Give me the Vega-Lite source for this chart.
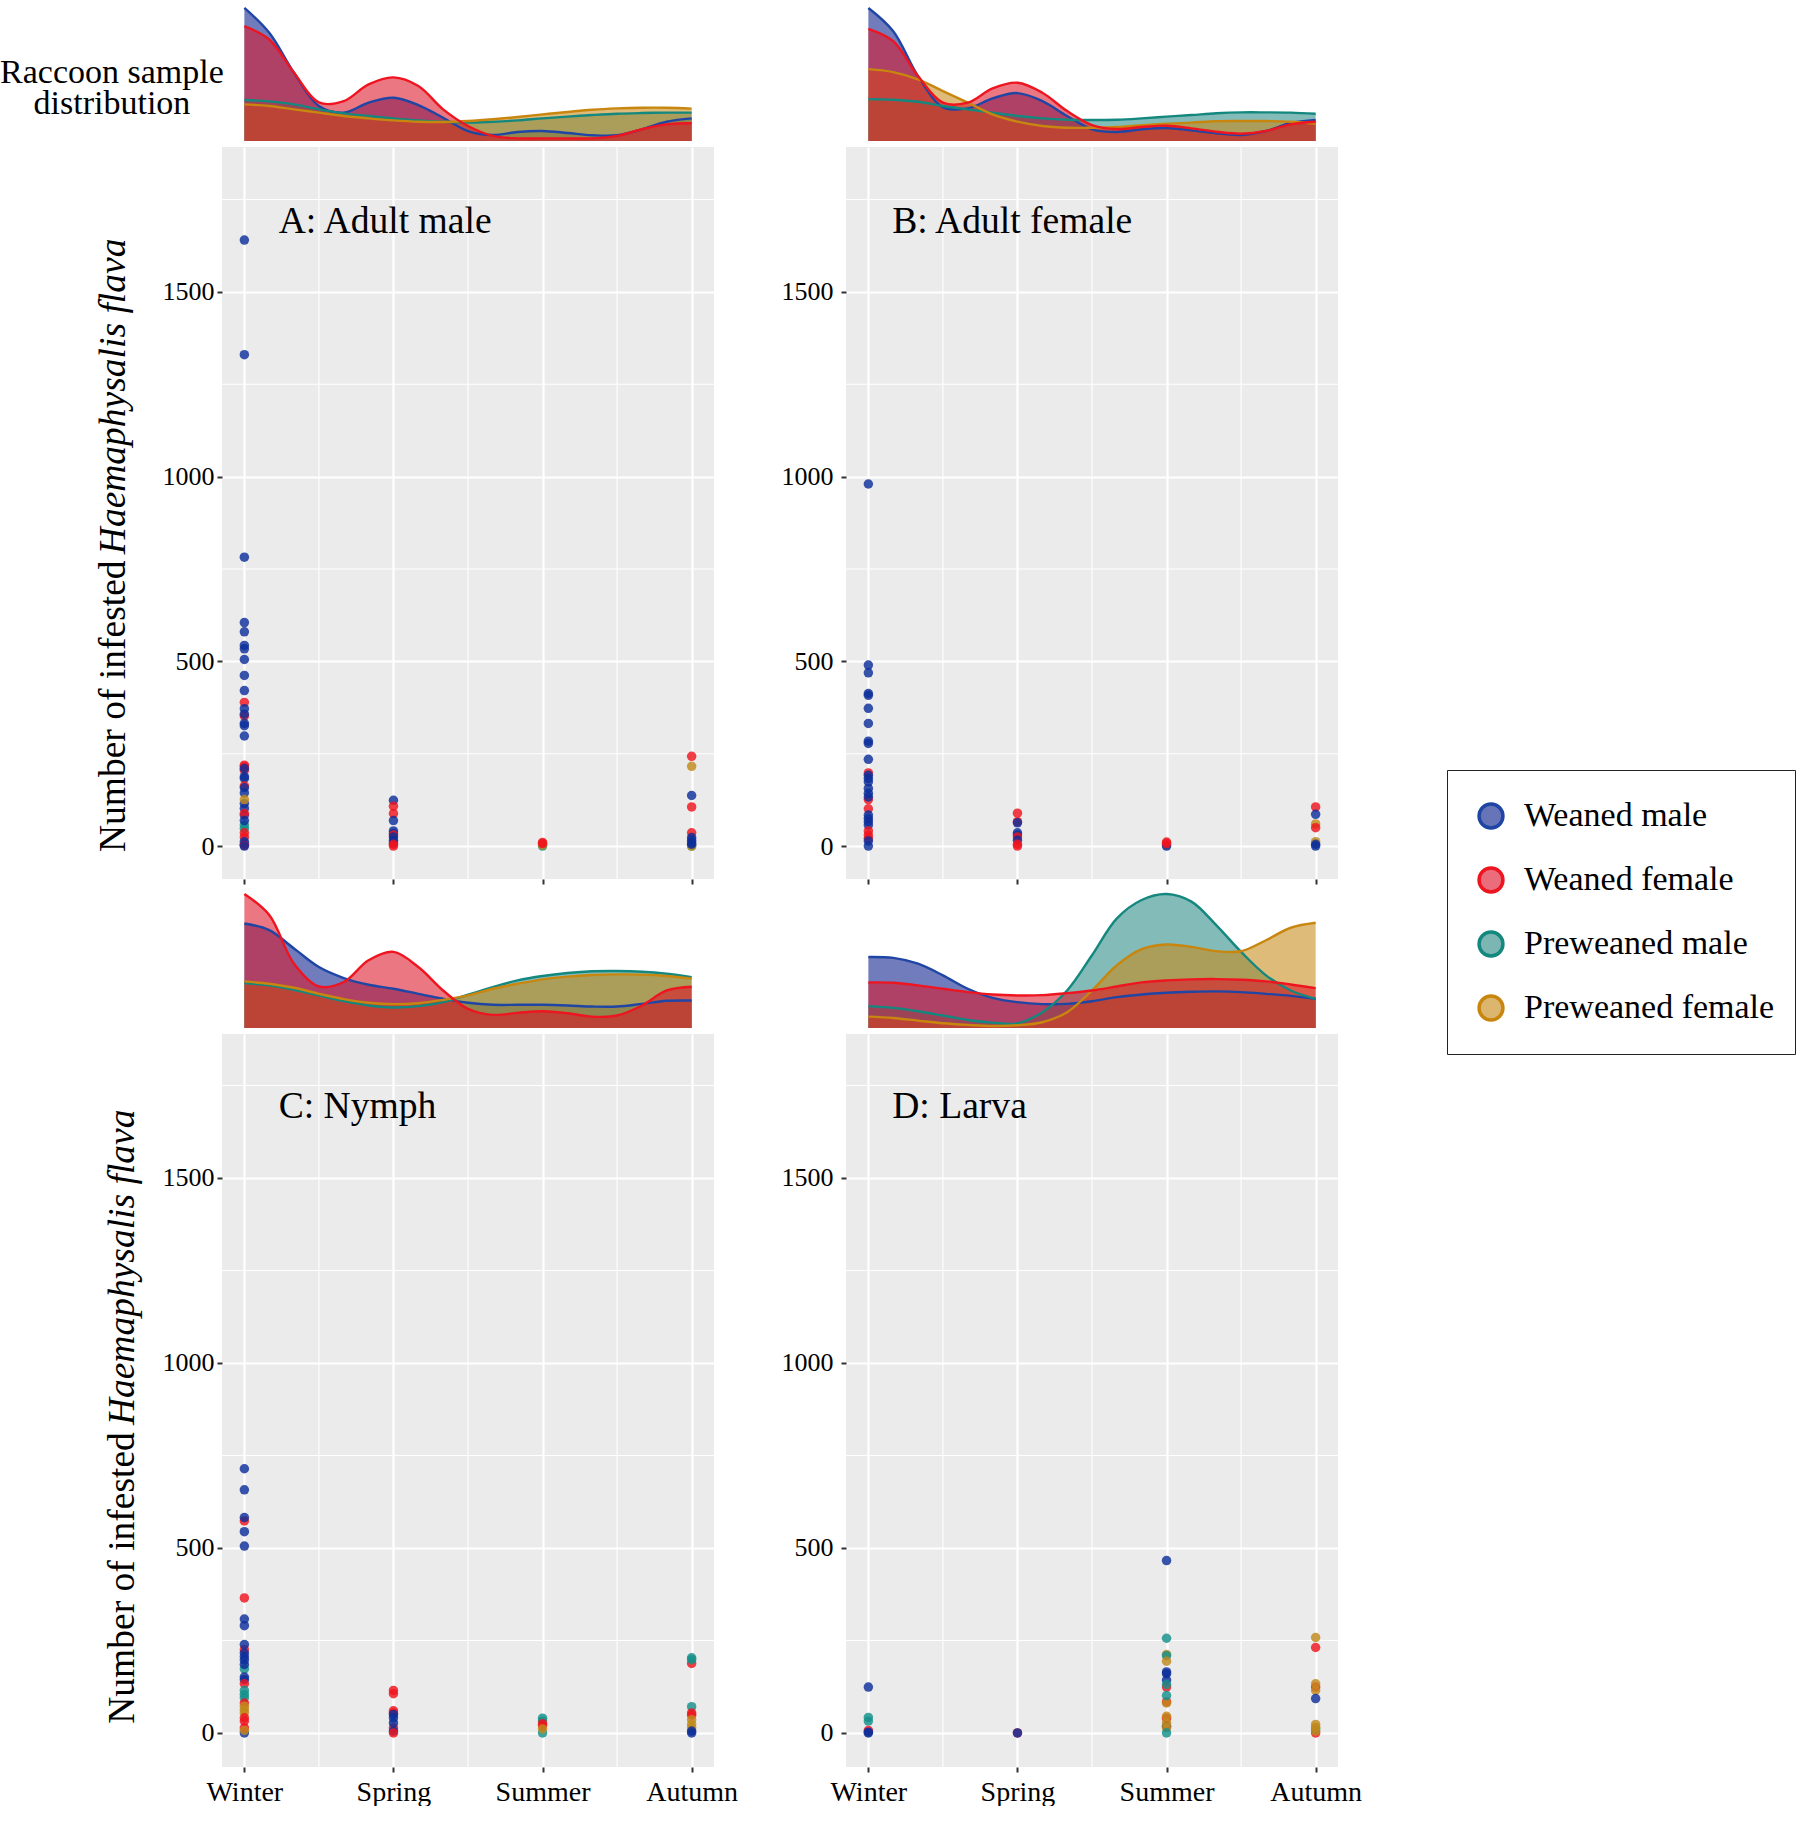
{
"$schema":"https://vega.github.io/schema/vega-lite/v6.json",
"padding":{"left":0,"top":3,"right":0,"bottom":0},
"background":"white",
"config":{
 "font":"Liberation Serif",
 "view":{"fill":"#EBEBEB","stroke":null},
 "axis":{"title":null,"domain":false,"labelFont":"Liberation Serif","labelFontSize":26,"labelColor":"#000000","labelPadding":3,"tickColor":"#333333","tickSize":5,"tickWidth":2,"grid":true,"gridColor":"#FFFFFF","gridWidth":2.2,"format":"d"},
 "legend":{"orient":"none","legendX":1225,"legendY":763,"title":null,"symbolType":"circle","symbolSize":570,"symbolOffset":7,"clipHeight":52,"labelFont":"Liberation Serif","labelFontSize":34,"labelColor":"#000000","labelLimit":400,"labelOffset":16,"padding":20,"rowPadding":12,"strokeColor":"#222222"}
},
"datasets":{
 "minor_x":[{"season":1.5},{"season":2.5},{"season":3.5}],
 "minor_y":[{"count":250},{"count":750},{"count":1250},{"count":1750}],
 "labels":[
  {"panel":"A","season":1.23,"count":1690,"text":"A: Adult male"},
  {"panel":"B","season":1.16,"count":1690,"text":"B: Adult female"},
  {"panel":"C","season":1.23,"count":1692,"text":"C: Nymph"},
  {"panel":"D","season":1.16,"count":1692,"text":"D: Larva"}
 ],
 "density":[
  {"panel":"A","season":1.000,"Weaned male":1.0,"Weaned female":0.863,"Preweaned male":0.308,"Preweaned female":0.275},
  {"panel":"A","season":1.167,"Weaned male":0.813,"Weaned female":0.763,"Preweaned male":0.298,"Preweaned female":0.263},
  {"panel":"A","season":1.333,"Weaned male":0.513,"Weaned female":0.513,"Preweaned male":0.275,"Preweaned female":0.238},
  {"panel":"A","season":1.500,"Weaned male":0.263,"Weaned female":0.29,"Preweaned male":0.238,"Preweaned female":0.213},
  {"panel":"A","season":1.667,"Weaned male":0.213,"Weaned female":0.3,"Preweaned male":0.208,"Preweaned female":0.188},
  {"panel":"A","season":1.833,"Weaned male":0.288,"Weaned female":0.425,"Preweaned male":0.188,"Preweaned female":0.17},
  {"panel":"A","season":2.000,"Weaned male":0.325,"Weaned female":0.478,"Preweaned male":0.17,"Preweaned female":0.155},
  {"panel":"A","season":2.167,"Weaned male":0.27,"Weaned female":0.413,"Preweaned male":0.155,"Preweaned female":0.145},
  {"panel":"A","season":2.333,"Weaned male":0.175,"Weaned female":0.238,"Preweaned male":0.145,"Preweaned female":0.143},
  {"panel":"A","season":2.500,"Weaned male":0.075,"Weaned female":0.113,"Preweaned male":0.138,"Preweaned female":0.15},
  {"panel":"A","season":2.667,"Weaned male":0.045,"Weaned female":0.038,"Preweaned male":0.145,"Preweaned female":0.163},
  {"panel":"A","season":2.833,"Weaned male":0.068,"Weaned female":0.02,"Preweaned male":0.155,"Preweaned female":0.18},
  {"panel":"A","season":3.000,"Weaned male":0.075,"Weaned female":0.02,"Preweaned male":0.17,"Preweaned female":0.2},
  {"panel":"A","season":3.167,"Weaned male":0.06,"Weaned female":0.02,"Preweaned male":0.183,"Preweaned female":0.218},
  {"panel":"A","season":3.333,"Weaned male":0.043,"Weaned female":0.02,"Preweaned male":0.195,"Preweaned female":0.235},
  {"panel":"A","season":3.500,"Weaned male":0.043,"Weaned female":0.038,"Preweaned male":0.205,"Preweaned female":0.245},
  {"panel":"A","season":3.667,"Weaned male":0.088,"Weaned female":0.088,"Preweaned male":0.21,"Preweaned female":0.25},
  {"panel":"A","season":3.833,"Weaned male":0.145,"Weaned female":0.125,"Preweaned male":0.213,"Preweaned female":0.25},
  {"panel":"A","season":4.000,"Weaned male":0.17,"Weaned female":0.133,"Preweaned male":0.213,"Preweaned female":0.243},
  {"panel":"B","season":1.000,"Weaned male":1.0,"Weaned female":0.843,"Preweaned male":0.315,"Preweaned female":0.54},
  {"panel":"B","season":1.167,"Weaned male":0.825,"Weaned female":0.75,"Preweaned male":0.31,"Preweaned female":0.518},
  {"panel":"B","season":1.333,"Weaned male":0.488,"Weaned female":0.488,"Preweaned male":0.295,"Preweaned female":0.463},
  {"panel":"B","season":1.500,"Weaned male":0.255,"Weaned female":0.288,"Preweaned male":0.263,"Preweaned female":0.375},
  {"panel":"B","season":1.667,"Weaned male":0.245,"Weaned female":0.288,"Preweaned male":0.238,"Preweaned female":0.288},
  {"panel":"B","season":1.833,"Weaned male":0.32,"Weaned female":0.395,"Preweaned male":0.213,"Preweaned female":0.2},
  {"panel":"B","season":2.000,"Weaned male":0.36,"Weaned female":0.438,"Preweaned male":0.188,"Preweaned female":0.145},
  {"panel":"B","season":2.167,"Weaned male":0.3,"Weaned female":0.363,"Preweaned male":0.17,"Preweaned female":0.113},
  {"panel":"B","season":2.333,"Weaned male":0.188,"Weaned female":0.225,"Preweaned male":0.16,"Preweaned female":0.1},
  {"panel":"B","season":2.500,"Weaned male":0.088,"Weaned female":0.12,"Preweaned male":0.158,"Preweaned female":0.1},
  {"panel":"B","season":2.667,"Weaned male":0.068,"Weaned female":0.09,"Preweaned male":0.16,"Preweaned female":0.105},
  {"panel":"B","season":2.833,"Weaned male":0.088,"Weaned female":0.105,"Preweaned male":0.17,"Preweaned female":0.118},
  {"panel":"B","season":3.000,"Weaned male":0.098,"Weaned female":0.115,"Preweaned male":0.183,"Preweaned female":0.13},
  {"panel":"B","season":3.167,"Weaned male":0.08,"Weaned female":0.095,"Preweaned male":0.195,"Preweaned female":0.138},
  {"panel":"B","season":3.333,"Weaned male":0.058,"Weaned female":0.07,"Preweaned male":0.208,"Preweaned female":0.148},
  {"panel":"B","season":3.500,"Weaned male":0.045,"Weaned female":0.055,"Preweaned male":0.215,"Preweaned female":0.15},
  {"panel":"B","season":3.667,"Weaned male":0.075,"Weaned female":0.075,"Preweaned male":0.215,"Preweaned female":0.15},
  {"panel":"B","season":3.833,"Weaned male":0.135,"Weaned female":0.125,"Preweaned male":0.213,"Preweaned female":0.145},
  {"panel":"B","season":4.000,"Weaned male":0.158,"Weaned female":0.145,"Preweaned male":0.205,"Preweaned female":0.13},
  {"panel":"C","season":1.000,"Weaned male":0.78,"Weaned female":1.0,"Preweaned male":0.335,"Preweaned female":0.348},
  {"panel":"C","season":1.167,"Weaned male":0.73,"Weaned female":0.843,"Preweaned male":0.318,"Preweaned female":0.33},
  {"panel":"C","season":1.333,"Weaned male":0.593,"Weaned female":0.48,"Preweaned male":0.285,"Preweaned female":0.3},
  {"panel":"C","season":1.500,"Weaned male":0.455,"Weaned female":0.31,"Preweaned male":0.243,"Preweaned female":0.255},
  {"panel":"C","season":1.667,"Weaned male":0.373,"Weaned female":0.343,"Preweaned male":0.2,"Preweaned female":0.215},
  {"panel":"C","season":1.833,"Weaned male":0.323,"Weaned female":0.505,"Preweaned male":0.168,"Preweaned female":0.188},
  {"panel":"C","season":2.000,"Weaned male":0.293,"Weaned female":0.568,"Preweaned male":0.153,"Preweaned female":0.178},
  {"panel":"C","season":2.167,"Weaned male":0.255,"Weaned female":0.455,"Preweaned male":0.163,"Preweaned female":0.185},
  {"panel":"C","season":2.333,"Weaned male":0.218,"Weaned female":0.28,"Preweaned male":0.193,"Preweaned female":0.21},
  {"panel":"C","season":2.500,"Weaned male":0.188,"Weaned female":0.143,"Preweaned male":0.248,"Preweaned female":0.243},
  {"panel":"C","season":2.667,"Weaned male":0.173,"Weaned female":0.098,"Preweaned male":0.305,"Preweaned female":0.293},
  {"panel":"C","season":2.833,"Weaned male":0.173,"Weaned female":0.113,"Preweaned male":0.355,"Preweaned female":0.33},
  {"panel":"C","season":3.000,"Weaned male":0.173,"Weaned female":0.125,"Preweaned male":0.388,"Preweaned female":0.363},
  {"panel":"C","season":3.167,"Weaned male":0.168,"Weaned female":0.11,"Preweaned male":0.41,"Preweaned female":0.383},
  {"panel":"C","season":3.333,"Weaned male":0.16,"Weaned female":0.085,"Preweaned male":0.423,"Preweaned female":0.395},
  {"panel":"C","season":3.500,"Weaned male":0.16,"Weaned female":0.093,"Preweaned male":0.425,"Preweaned female":0.4},
  {"panel":"C","season":3.667,"Weaned male":0.18,"Weaned female":0.168,"Preweaned male":0.42,"Preweaned female":0.398},
  {"panel":"C","season":3.833,"Weaned male":0.203,"Weaned female":0.28,"Preweaned male":0.405,"Preweaned female":0.388},
  {"panel":"C","season":4.000,"Weaned male":0.205,"Weaned female":0.308,"Preweaned male":0.38,"Preweaned female":0.368},
  {"panel":"D","season":1.000,"Weaned male":0.53,"Weaned female":0.34,"Preweaned male":0.163,"Preweaned female":0.085},
  {"panel":"D","season":1.167,"Weaned male":0.523,"Weaned female":0.338,"Preweaned male":0.15,"Preweaned female":0.075},
  {"panel":"D","season":1.333,"Weaned male":0.48,"Weaned female":0.318,"Preweaned male":0.125,"Preweaned female":0.055},
  {"panel":"D","season":1.500,"Weaned male":0.393,"Weaned female":0.293,"Preweaned male":0.093,"Preweaned female":0.035},
  {"panel":"D","season":1.667,"Weaned male":0.293,"Weaned female":0.268,"Preweaned male":0.06,"Preweaned female":0.023},
  {"panel":"D","season":1.833,"Weaned male":0.225,"Weaned female":0.25,"Preweaned male":0.04,"Preweaned female":0.015},
  {"panel":"D","season":2.000,"Weaned male":0.193,"Weaned female":0.243,"Preweaned male":0.035,"Preweaned female":0.02},
  {"panel":"D","season":2.167,"Weaned male":0.178,"Weaned female":0.245,"Preweaned male":0.118,"Preweaned female":0.043},
  {"panel":"D","season":2.333,"Weaned male":0.18,"Weaned female":0.26,"Preweaned male":0.28,"Preweaned female":0.118},
  {"panel":"D","season":2.500,"Weaned male":0.2,"Weaned female":0.28,"Preweaned male":0.543,"Preweaned female":0.28},
  {"panel":"D","season":2.667,"Weaned male":0.23,"Weaned female":0.31,"Preweaned male":0.818,"Preweaned female":0.468},
  {"panel":"D","season":2.833,"Weaned male":0.25,"Weaned female":0.34,"Preweaned male":0.955,"Preweaned female":0.588},
  {"panel":"D","season":3.000,"Weaned male":0.263,"Weaned female":0.355,"Preweaned male":1.0,"Preweaned female":0.623},
  {"panel":"D","season":3.167,"Weaned male":0.27,"Weaned female":0.363,"Preweaned male":0.943,"Preweaned female":0.605},
  {"panel":"D","season":3.333,"Weaned male":0.273,"Weaned female":0.365,"Preweaned male":0.768,"Preweaned female":0.573},
  {"panel":"D","season":3.500,"Weaned male":0.268,"Weaned female":0.36,"Preweaned male":0.568,"Preweaned female":0.573},
  {"panel":"D","season":3.667,"Weaned male":0.255,"Weaned female":0.348,"Preweaned male":0.393,"Preweaned female":0.655},
  {"panel":"D","season":3.833,"Weaned male":0.24,"Weaned female":0.325,"Preweaned male":0.28,"Preweaned female":0.748},
  {"panel":"D","season":4.000,"Weaned male":0.218,"Weaned female":0.298,"Preweaned male":0.218,"Preweaned female":0.785}
 ],
 "points":[
  {"panel":"A","season":1,"count":1640,"group":"Weaned male"},{"panel":"A","season":1,"count":1330,"group":"Weaned male"},{"panel":"A","season":1,"count":782,"group":"Weaned male"},{"panel":"A","season":1,"count":605,"group":"Weaned male"},{"panel":"A","season":1,"count":580,"group":"Weaned male"},{"panel":"A","season":1,"count":543,"group":"Weaned male"},{"panel":"A","season":1,"count":534,"group":"Weaned male"},{"panel":"A","season":1,"count":505,"group":"Weaned male"},{"panel":"A","season":1,"count":462,"group":"Weaned male"},{"panel":"A","season":1,"count":421,"group":"Weaned male"},
  {"panel":"A","season":1,"count":389,"group":"Weaned female"},{"panel":"A","season":1,"count":372,"group":"Weaned male"},{"panel":"A","season":1,"count":352,"group":"Weaned female"},{"panel":"A","season":1,"count":357,"group":"Weaned male"},{"panel":"A","season":1,"count":332,"group":"Weaned male"},{"panel":"A","season":1,"count":326,"group":"Weaned male"},{"panel":"A","season":1,"count":298,"group":"Weaned male"},
  {"panel":"A","season":1,"count":219,"group":"Weaned female"},{"panel":"A","season":1,"count":215,"group":"Weaned female"},{"panel":"A","season":1,"count":205,"group":"Weaned female"},{"panel":"A","season":1,"count":210,"group":"Weaned male"},{"panel":"A","season":1,"count":188,"group":"Weaned male"},{"panel":"A","season":1,"count":183,"group":"Weaned male"},{"panel":"A","season":1,"count":163,"group":"Weaned female"},{"panel":"A","season":1,"count":158,"group":"Weaned male"},{"panel":"A","season":1,"count":144,"group":"Weaned male"},{"panel":"A","season":1,"count":115,"group":"Weaned male"},{"panel":"A","season":1,"count":102,"group":"Weaned male"},{"panel":"A","season":1,"count":126,"group":"Preweaned female"},{"panel":"A","season":1,"count":84,"group":"Weaned male"},{"panel":"A","season":1,"count":88,"group":"Weaned female"},{"panel":"A","season":1,"count":57,"group":"Preweaned male"},{"panel":"A","season":1,"count":48,"group":"Preweaned male"},{"panel":"A","season":1,"count":69,"group":"Weaned male"},{"panel":"A","season":1,"count":36,"group":"Weaned female"},{"panel":"A","season":1,"count":25,"group":"Weaned female"},{"panel":"A","season":1,"count":12,"group":"Weaned male"},{"panel":"A","season":1,"count":5,"group":"Weaned male"},{"panel":"A","season":1,"count":2,"group":"Weaned female"},{"panel":"A","season":1,"count":0,"group":"Weaned male"},
  {"panel":"A","season":2,"count":124,"group":"Weaned male"},{"panel":"A","season":2,"count":108,"group":"Weaned female"},{"panel":"A","season":2,"count":88,"group":"Weaned female"},{"panel":"A","season":2,"count":69,"group":"Weaned male"},{"panel":"A","season":2,"count":41,"group":"Weaned male"},{"panel":"A","season":2,"count":34,"group":"Weaned male"},{"panel":"A","season":2,"count":30,"group":"Weaned female"},{"panel":"A","season":2,"count":25,"group":"Weaned male"},{"panel":"A","season":2,"count":16,"group":"Weaned male"},{"panel":"A","season":2,"count":9,"group":"Weaned male"},{"panel":"A","season":2,"count":5,"group":"Weaned female"},{"panel":"A","season":2,"count":0,"group":"Weaned female"},
  {"panel":"A","season":3,"count":0,"group":"Preweaned male"},{"panel":"A","season":3,"count":3,"group":"Preweaned female"},{"panel":"A","season":3,"count":7,"group":"Weaned female"},{"panel":"A","season":3,"count":10,"group":"Weaned female"},
  {"panel":"A","season":4,"count":243,"group":"Weaned female"},{"panel":"A","season":4,"count":216,"group":"Preweaned female"},{"panel":"A","season":4,"count":137,"group":"Weaned male"},{"panel":"A","season":4,"count":106,"group":"Weaned female"},{"panel":"A","season":4,"count":36,"group":"Weaned female"},{"panel":"A","season":4,"count":0,"group":"Preweaned male"},{"panel":"A","season":4,"count":0,"group":"Preweaned female"},{"panel":"A","season":4,"count":23,"group":"Weaned male"},{"panel":"A","season":4,"count":16,"group":"Weaned male"},{"panel":"A","season":4,"count":9,"group":"Weaned male"},{"panel":"A","season":4,"count":5,"group":"Weaned male"},
  {"panel":"B","season":1,"count":980,"group":"Weaned male"},{"panel":"B","season":1,"count":490,"group":"Weaned male"},{"panel":"B","season":1,"count":469,"group":"Weaned male"},{"panel":"B","season":1,"count":413,"group":"Weaned male"},{"panel":"B","season":1,"count":408,"group":"Weaned male"},{"panel":"B","season":1,"count":373,"group":"Weaned male"},{"panel":"B","season":1,"count":332,"group":"Weaned male"},{"panel":"B","season":1,"count":284,"group":"Weaned male"},{"panel":"B","season":1,"count":278,"group":"Weaned male"},{"panel":"B","season":1,"count":235,"group":"Weaned male"},{"panel":"B","season":1,"count":198,"group":"Weaned female"},{"panel":"B","season":1,"count":192,"group":"Weaned male"},{"panel":"B","season":1,"count":183,"group":"Weaned male"},{"panel":"B","season":1,"count":174,"group":"Weaned male"},{"panel":"B","season":1,"count":156,"group":"Weaned male"},{"panel":"B","season":1,"count":126,"group":"Weaned female"},{"panel":"B","season":1,"count":143,"group":"Weaned male"},{"panel":"B","season":1,"count":133,"group":"Weaned male"},{"panel":"B","season":1,"count":101,"group":"Weaned female"},{"panel":"B","season":1,"count":84,"group":"Weaned male"},{"panel":"B","season":1,"count":75,"group":"Weaned male"},{"panel":"B","season":1,"count":66,"group":"Weaned male"},{"panel":"B","season":1,"count":57,"group":"Weaned male"},{"panel":"B","season":1,"count":41,"group":"Weaned female"},{"panel":"B","season":1,"count":30,"group":"Weaned female"},{"panel":"B","season":1,"count":21,"group":"Weaned female"},{"panel":"B","season":1,"count":0,"group":"Weaned male"},{"panel":"B","season":1,"count":14,"group":"Weaned male"},
  {"panel":"B","season":2,"count":89,"group":"Weaned female"},{"panel":"B","season":2,"count":66,"group":"Weaned female"},{"panel":"B","season":2,"count":63,"group":"Weaned male"},{"panel":"B","season":2,"count":36,"group":"Weaned male"},{"panel":"B","season":2,"count":30,"group":"Weaned male"},{"panel":"B","season":2,"count":25,"group":"Weaned female"},{"panel":"B","season":2,"count":16,"group":"Weaned male"},{"panel":"B","season":2,"count":5,"group":"Weaned female"},{"panel":"B","season":2,"count":0,"group":"Weaned female"},
  {"panel":"B","season":3,"count":3,"group":"Preweaned female"},{"panel":"B","season":3,"count":0,"group":"Weaned male"},{"panel":"B","season":3,"count":11,"group":"Weaned female"},{"panel":"B","season":3,"count":7,"group":"Weaned female"},
  {"panel":"B","season":4,"count":106,"group":"Weaned female"},{"panel":"B","season":4,"count":86,"group":"Weaned male"},{"panel":"B","season":4,"count":60,"group":"Preweaned female"},{"panel":"B","season":4,"count":50,"group":"Weaned female"},{"panel":"B","season":4,"count":12,"group":"Preweaned female"},{"panel":"B","season":4,"count":5,"group":"Weaned male"},{"panel":"B","season":4,"count":0,"group":"Weaned male"},
  {"panel":"C","season":1,"count":714,"group":"Weaned male"},{"panel":"C","season":1,"count":657,"group":"Weaned male"},{"panel":"C","season":1,"count":573,"group":"Weaned female"},{"panel":"C","season":1,"count":582,"group":"Weaned male"},{"panel":"C","season":1,"count":544,"group":"Weaned male"},{"panel":"C","season":1,"count":505,"group":"Weaned male"},{"panel":"C","season":1,"count":365,"group":"Weaned female"},{"panel":"C","season":1,"count":308,"group":"Weaned male"},{"panel":"C","season":1,"count":290,"group":"Weaned male"},{"panel":"C","season":1,"count":225,"group":"Weaned female"},{"panel":"C","season":1,"count":239,"group":"Weaned male"},{"panel":"C","season":1,"count":216,"group":"Weaned male"},{"panel":"C","season":1,"count":206,"group":"Weaned male"},{"panel":"C","season":1,"count":197,"group":"Weaned male"},{"panel":"C","season":1,"count":173,"group":"Preweaned male"},{"panel":"C","season":1,"count":185,"group":"Weaned male"},{"panel":"C","season":1,"count":151,"group":"Weaned male"},{"panel":"C","season":1,"count":144,"group":"Weaned male"},{"panel":"C","season":1,"count":133,"group":"Weaned female"},{"panel":"C","season":1,"count":115,"group":"Preweaned male"},{"panel":"C","season":1,"count":104,"group":"Preweaned male"},{"panel":"C","season":1,"count":95,"group":"Preweaned male"},{"panel":"C","season":1,"count":81,"group":"Weaned female"},{"panel":"C","season":1,"count":72,"group":"Preweaned female"},{"panel":"C","season":1,"count":63,"group":"Preweaned female"},{"panel":"C","season":1,"count":54,"group":"Preweaned female"},{"panel":"C","season":1,"count":0,"group":"Weaned male"},{"panel":"C","season":1,"count":41,"group":"Weaned female"},{"panel":"C","season":1,"count":32,"group":"Weaned female"},{"panel":"C","season":1,"count":14,"group":"Weaned female"},{"panel":"C","season":1,"count":7,"group":"Preweaned female"},
  {"panel":"C","season":2,"count":115,"group":"Weaned female"},{"panel":"C","season":2,"count":106,"group":"Weaned female"},{"panel":"C","season":2,"count":60,"group":"Weaned female"},{"panel":"C","season":2,"count":54,"group":"Weaned female"},{"panel":"C","season":2,"count":14,"group":"Weaned female"},{"panel":"C","season":2,"count":5,"group":"Weaned male"},{"panel":"C","season":2,"count":0,"group":"Weaned female"},{"panel":"C","season":2,"count":50,"group":"Weaned male"},{"panel":"C","season":2,"count":41,"group":"Weaned male"},{"panel":"C","season":2,"count":27,"group":"Weaned male"},
  {"panel":"C","season":3,"count":40,"group":"Preweaned male"},{"panel":"C","season":3,"count":32,"group":"Preweaned male"},{"panel":"C","season":3,"count":0,"group":"Preweaned male"},{"panel":"C","season":3,"count":25,"group":"Weaned female"},{"panel":"C","season":3,"count":20,"group":"Weaned female"},{"panel":"C","season":3,"count":11,"group":"Preweaned female"},
  {"panel":"C","season":4,"count":188,"group":"Weaned female"},{"panel":"C","season":4,"count":203,"group":"Preweaned male"},{"panel":"C","season":4,"count":198,"group":"Preweaned male"},{"panel":"C","season":4,"count":71,"group":"Preweaned male"},{"panel":"C","season":4,"count":54,"group":"Weaned female"},{"panel":"C","season":4,"count":48,"group":"Weaned female"},{"panel":"C","season":4,"count":36,"group":"Preweaned female"},{"panel":"C","season":4,"count":23,"group":"Preweaned female"},{"panel":"C","season":4,"count":14,"group":"Preweaned female"},{"panel":"C","season":4,"count":5,"group":"Weaned male"},{"panel":"C","season":4,"count":0,"group":"Weaned male"},
  {"panel":"D","season":1,"count":124,"group":"Weaned male"},{"panel":"D","season":1,"count":42,"group":"Preweaned male"},{"panel":"D","season":1,"count":32,"group":"Preweaned male"},{"panel":"D","season":1,"count":7,"group":"Weaned female"},{"panel":"D","season":1,"count":2,"group":"Weaned male"},{"panel":"D","season":1,"count":0,"group":"Weaned male"},
  {"panel":"D","season":2,"count":0,"group":"Weaned female"},{"panel":"D","season":2,"count":0,"group":"Weaned male"},
  {"panel":"D","season":3,"count":466,"group":"Weaned male"},{"panel":"D","season":3,"count":256,"group":"Preweaned male"},{"panel":"D","season":3,"count":212,"group":"Preweaned female"},{"panel":"D","season":3,"count":209,"group":"Preweaned male"},{"panel":"D","season":3,"count":194,"group":"Preweaned female"},{"panel":"D","season":3,"count":165,"group":"Weaned male"},{"panel":"D","season":3,"count":160,"group":"Weaned male"},{"panel":"D","season":3,"count":143,"group":"Weaned male"},{"panel":"D","season":3,"count":124,"group":"Weaned female"},{"panel":"D","season":3,"count":131,"group":"Preweaned male"},{"panel":"D","season":3,"count":84,"group":"Weaned female"},{"panel":"D","season":3,"count":81,"group":"Preweaned female"},{"panel":"D","season":3,"count":101,"group":"Preweaned male"},{"panel":"D","season":3,"count":40,"group":"Weaned female"},{"panel":"D","season":3,"count":45,"group":"Preweaned female"},{"panel":"D","season":3,"count":18,"group":"Weaned male"},{"panel":"D","season":3,"count":27,"group":"Preweaned female"},{"panel":"D","season":3,"count":14,"group":"Preweaned female"},{"panel":"D","season":3,"count":0,"group":"Preweaned male"},
  {"panel":"D","season":4,"count":258,"group":"Preweaned female"},{"panel":"D","season":4,"count":231,"group":"Weaned female"},{"panel":"D","season":4,"count":124,"group":"Weaned female"},{"panel":"D","season":4,"count":133,"group":"Preweaned female"},{"panel":"D","season":4,"count":115,"group":"Preweaned female"},{"panel":"D","season":4,"count":93,"group":"Weaned male"},{"panel":"D","season":4,"count":0,"group":"Weaned female"},{"panel":"D","season":4,"count":11,"group":"Preweaned male"},{"panel":"D","season":4,"count":23,"group":"Preweaned female"},{"panel":"D","season":4,"count":15,"group":"Preweaned female"},{"panel":"D","season":4,"count":5,"group":"Preweaned female"}
 ]
},
"bounds":"flush",
"columns":2,
"spacing":{"row":6,"column":132},
"concat":[
 {"width":492,"height":134,"view":{"fill":null},
  "encoding":{"x":{"field":"season","type":"quantitative","axis":null,"scale":{"domain":[0.85,4.15],"nice":false}},"y":{"field":"density","type":"quantitative","axis":null,"stack":null,"scale":{"domain":[0,1.007],"nice":false}}},
  "layer":[
   {"data":{"name":"density"},"transform":[{"filter":"datum.panel==='A'"},{"fold":["Weaned male","Preweaned male","Preweaned female","Weaned female"],"as":["group","density"]}],
    "mark":{"type":"area","fillOpacity":0.58,"interpolate":"catmull-rom"},
    "encoding":{"fill":{"field":"group","type":"nominal","scale":{"domain":["Weaned male","Weaned female","Preweaned male","Preweaned female"],"range":["#0A1E8C","#DC1428","#2A8984","#C68916"]},
     "legend":{"encoding":{"symbols":{"opacity":{"value":1},"fillOpacity":{"value":0.62},"strokeOpacity":{"value":1},"strokeWidth":{"value":3.5},"stroke":{"value":{"signal":"{'Weaned male':'#1F45A5','Weaned female':'#EE1520','Preweaned male':'#14877F','Preweaned female':'#C8912F'}[datum.value]"}}}}}}}},
   {"data":{"name":"density"},"transform":[{"filter":"datum.panel==='A'"},{"fold":["Weaned male","Preweaned male","Preweaned female","Weaned female"],"as":["group","density"]}],
    "mark":{"type":"line","strokeWidth":2.4,"interpolate":"catmull-rom"},
    "encoding":{"stroke":{"field":"group","type":"nominal","legend":null,"scale":{"domain":["Weaned male","Weaned female","Preweaned male","Preweaned female"],"range":["#1F45A5","#EE1520","#14877F","#C8860F"]}}}},
   {"data":{"values":[{"season":0.112,"density":0.508,"text":"Raccoon sample"},{"season":0.112,"density":0.275,"text":"distribution"}]},
    "mark":{"type":"text","fontSize":34,"font":"Liberation Serif","align":"center","baseline":"middle","color":"#000000"},
    "encoding":{"text":{"field":"text","type":"nominal"}}}
  ]},
 {"width":492,"height":134,"view":{"fill":null},
  "encoding":{"x":{"field":"season","type":"quantitative","axis":null,"scale":{"domain":[0.85,4.15],"nice":false}},"y":{"field":"density","type":"quantitative","axis":null,"stack":null,"scale":{"domain":[0,1.007],"nice":false}}},
  "layer":[
   {"data":{"name":"density"},"transform":[{"filter":"datum.panel==='B'"},{"fold":["Weaned male","Preweaned male","Preweaned female","Weaned female"],"as":["group","density"]}],
    "mark":{"type":"area","fillOpacity":0.58,"interpolate":"catmull-rom"},
    "encoding":{"fill":{"field":"group","type":"nominal","legend":null,"scale":{"domain":["Weaned male","Weaned female","Preweaned male","Preweaned female"],"range":["#0A1E8C","#DC1428","#2A8984","#C68916"]}}}},
   {"data":{"name":"density"},"transform":[{"filter":"datum.panel==='B'"},{"fold":["Weaned male","Preweaned male","Preweaned female","Weaned female"],"as":["group","density"]}],
    "mark":{"type":"line","strokeWidth":2.4,"interpolate":"catmull-rom"},
    "encoding":{"stroke":{"field":"group","type":"nominal","legend":null,"scale":{"domain":["Weaned male","Weaned female","Preweaned male","Preweaned female"],"range":["#1F45A5","#EE1520","#14877F","#C8860F"]}}}}
  ]},
 {"width":492,"height":732,
  "encoding":{"x":{"field":"season","type":"quantitative","scale":{"domain":[0.85,4.15],"nice":false},"axis":{"values":[1,2,3,4],"labels":false}},"y":{"field":"count","type":"quantitative","scale":{"domain":[-89,1892],"nice":false,"zero":false},"axis":{"values":[0,500,1000,1500]}}},
  "layer":[
   {"data":{"name":"minor_x"},"mark":{"type":"rule","color":"#FFFFFF","strokeWidth":1.1},"encoding":{"y":null}},
   {"data":{"name":"minor_y"},"mark":{"type":"rule","color":"#FFFFFF","strokeWidth":1.1},"encoding":{"x":null}},
   {"data":{"name":"points"},"transform":[{"filter":"datum.panel==='A'"}],"mark":{"type":"point","shape":"circle","filled":true,"size":90,"opacity":0.82},
    "encoding":{"color":{"field":"group","type":"nominal","legend":null,"scale":{"domain":["Weaned male","Weaned female","Preweaned male","Preweaned female"],"range":["#0C2E9A","#EF141D","#14908B","#C1891B"]}}}},
   {"data":{"name":"labels"},"transform":[{"filter":"datum.panel==='A'"}],"mark":{"type":"text","fontSize":37.6,"font":"Liberation Serif","align":"left","baseline":"middle","color":"#000000"},"encoding":{"text":{"field":"text","type":"nominal"}}},
   {"data":{"values":[{"season":0.2,"count":-16,"text":"Number of infested"}]},"mark":{"type":"text","fontSize":37.5,"font":"Liberation Serif","align":"left","baseline":"alphabetic","angle":270,"color":"#000000"},"encoding":{"text":{"field":"text","type":"nominal"}}},
   {"data":{"values":[{"season":0.2,"count":790,"text":"Haemaphysalis flava"}]},"mark":{"type":"text","fontSize":37.5,"fontStyle":"italic","font":"Liberation Serif","align":"left","baseline":"alphabetic","angle":270,"color":"#000000"},"encoding":{"text":{"field":"text","type":"nominal"}}}
  ]},
 {"width":492,"height":732,
  "encoding":{"x":{"field":"season","type":"quantitative","scale":{"domain":[0.85,4.15],"nice":false},"axis":{"values":[1,2,3,4],"labels":false}},"y":{"field":"count","type":"quantitative","scale":{"domain":[-89,1892],"nice":false,"zero":false},"axis":{"values":[0,500,1000,1500],"labelPadding":8}}},
  "layer":[
   {"data":{"name":"minor_x"},"mark":{"type":"rule","color":"#FFFFFF","strokeWidth":1.1},"encoding":{"y":null}},
   {"data":{"name":"minor_y"},"mark":{"type":"rule","color":"#FFFFFF","strokeWidth":1.1},"encoding":{"x":null}},
   {"data":{"name":"points"},"transform":[{"filter":"datum.panel==='B'"}],"mark":{"type":"point","shape":"circle","filled":true,"size":90,"opacity":0.82},
    "encoding":{"color":{"field":"group","type":"nominal","legend":null,"scale":{"domain":["Weaned male","Weaned female","Preweaned male","Preweaned female"],"range":["#0C2E9A","#EF141D","#14908B","#C1891B"]}}}},
   {"data":{"name":"labels"},"transform":[{"filter":"datum.panel==='B'"}],"mark":{"type":"text","fontSize":37.6,"font":"Liberation Serif","align":"left","baseline":"middle","color":"#000000"},"encoding":{"text":{"field":"text","type":"nominal"}}}
  ]},
 {"width":492,"height":143,"view":{"fill":null},
  "encoding":{"x":{"field":"season","type":"quantitative","axis":null,"scale":{"domain":[0.85,4.15],"nice":false}},"y":{"field":"density","type":"quantitative","axis":null,"stack":null,"scale":{"domain":[0,1.067],"nice":false}}},
  "layer":[
   {"data":{"name":"density"},"transform":[{"filter":"datum.panel==='C'"},{"fold":["Weaned male","Preweaned male","Preweaned female","Weaned female"],"as":["group","density"]}],
    "mark":{"type":"area","fillOpacity":0.58,"interpolate":"catmull-rom"},
    "encoding":{"fill":{"field":"group","type":"nominal","legend":null,"scale":{"domain":["Weaned male","Weaned female","Preweaned male","Preweaned female"],"range":["#0A1E8C","#DC1428","#2A8984","#C68916"]}}}},
   {"data":{"name":"density"},"transform":[{"filter":"datum.panel==='C'"},{"fold":["Weaned male","Preweaned male","Preweaned female","Weaned female"],"as":["group","density"]}],
    "mark":{"type":"line","strokeWidth":2.4,"interpolate":"catmull-rom"},
    "encoding":{"stroke":{"field":"group","type":"nominal","legend":null,"scale":{"domain":["Weaned male","Weaned female","Preweaned male","Preweaned female"],"range":["#1F45A5","#EE1520","#14877F","#C8860F"]}}}}
  ]},
 {"width":492,"height":143,"view":{"fill":null},
  "encoding":{"x":{"field":"season","type":"quantitative","axis":null,"scale":{"domain":[0.85,4.15],"nice":false}},"y":{"field":"density","type":"quantitative","axis":null,"stack":null,"scale":{"domain":[0,1.067],"nice":false}}},
  "layer":[
   {"data":{"name":"density"},"transform":[{"filter":"datum.panel==='D'"},{"fold":["Weaned male","Preweaned male","Preweaned female","Weaned female"],"as":["group","density"]}],
    "mark":{"type":"area","fillOpacity":0.58,"interpolate":"catmull-rom"},
    "encoding":{"fill":{"field":"group","type":"nominal","legend":null,"scale":{"domain":["Weaned male","Weaned female","Preweaned male","Preweaned female"],"range":["#0A1E8C","#DC1428","#2A8984","#C68916"]}}}},
   {"data":{"name":"density"},"transform":[{"filter":"datum.panel==='D'"},{"fold":["Weaned male","Preweaned male","Preweaned female","Weaned female"],"as":["group","density"]}],
    "mark":{"type":"line","strokeWidth":2.4,"interpolate":"catmull-rom"},
    "encoding":{"stroke":{"field":"group","type":"nominal","legend":null,"scale":{"domain":["Weaned male","Weaned female","Preweaned male","Preweaned female"],"range":["#1F45A5","#EE1520","#14877F","#C8860F"]}}}}
  ]},
 {"width":492,"height":733,
  "encoding":{"x":{"field":"season","type":"quantitative","scale":{"domain":[0.85,4.15],"nice":false},"axis":{"values":[1,2,3,4],"labelFontSize":28,"labelPadding":6,"labelExpr":"['','Winter','Spring','Summer','Autumn'][datum.value]"}},"y":{"field":"count","type":"quantitative","scale":{"domain":[-92,1889],"nice":false,"zero":false},"axis":{"values":[0,500,1000,1500]}}},
  "layer":[
   {"data":{"name":"minor_x"},"mark":{"type":"rule","color":"#FFFFFF","strokeWidth":1.1},"encoding":{"y":null}},
   {"data":{"name":"minor_y"},"mark":{"type":"rule","color":"#FFFFFF","strokeWidth":1.1},"encoding":{"x":null}},
   {"data":{"name":"points"},"transform":[{"filter":"datum.panel==='C'"}],"mark":{"type":"point","shape":"circle","filled":true,"size":90,"opacity":0.82},
    "encoding":{"color":{"field":"group","type":"nominal","legend":null,"scale":{"domain":["Weaned male","Weaned female","Preweaned male","Preweaned female"],"range":["#0C2E9A","#EF141D","#14908B","#C1891B"]}}}},
   {"data":{"name":"labels"},"transform":[{"filter":"datum.panel==='C'"}],"mark":{"type":"text","fontSize":37.6,"font":"Liberation Serif","align":"left","baseline":"middle","color":"#000000"},"encoding":{"text":{"field":"text","type":"nominal"}}},
   {"data":{"values":[{"season":0.26,"count":25,"text":"Number of infested"}]},"mark":{"type":"text","fontSize":37.5,"font":"Liberation Serif","align":"left","baseline":"alphabetic","angle":270,"color":"#000000"},"encoding":{"text":{"field":"text","type":"nominal"}}},
   {"data":{"values":[{"season":0.26,"count":832,"text":"Haemaphysalis flava"}]},"mark":{"type":"text","fontSize":37.5,"fontStyle":"italic","font":"Liberation Serif","align":"left","baseline":"alphabetic","angle":270,"color":"#000000"},"encoding":{"text":{"field":"text","type":"nominal"}}}
  ]},
 {"width":492,"height":733,
  "encoding":{"x":{"field":"season","type":"quantitative","scale":{"domain":[0.85,4.15],"nice":false},"axis":{"values":[1,2,3,4],"labelFontSize":28,"labelPadding":6,"labelExpr":"['','Winter','Spring','Summer','Autumn'][datum.value]"}},"y":{"field":"count","type":"quantitative","scale":{"domain":[-92,1889],"nice":false,"zero":false},"axis":{"values":[0,500,1000,1500],"labelPadding":8}}},
  "layer":[
   {"data":{"name":"minor_x"},"mark":{"type":"rule","color":"#FFFFFF","strokeWidth":1.1},"encoding":{"y":null}},
   {"data":{"name":"minor_y"},"mark":{"type":"rule","color":"#FFFFFF","strokeWidth":1.1},"encoding":{"x":null}},
   {"data":{"name":"points"},"transform":[{"filter":"datum.panel==='D'"}],"mark":{"type":"point","shape":"circle","filled":true,"size":90,"opacity":0.82},
    "encoding":{"color":{"field":"group","type":"nominal","legend":null,"scale":{"domain":["Weaned male","Weaned female","Preweaned male","Preweaned female"],"range":["#0C2E9A","#EF141D","#14908B","#C1891B"]}}}},
   {"data":{"name":"labels"},"transform":[{"filter":"datum.panel==='D'"}],"mark":{"type":"text","fontSize":37.6,"font":"Liberation Serif","align":"left","baseline":"middle","color":"#000000"},"encoding":{"text":{"field":"text","type":"nominal"}}}
  ]}
]
}
